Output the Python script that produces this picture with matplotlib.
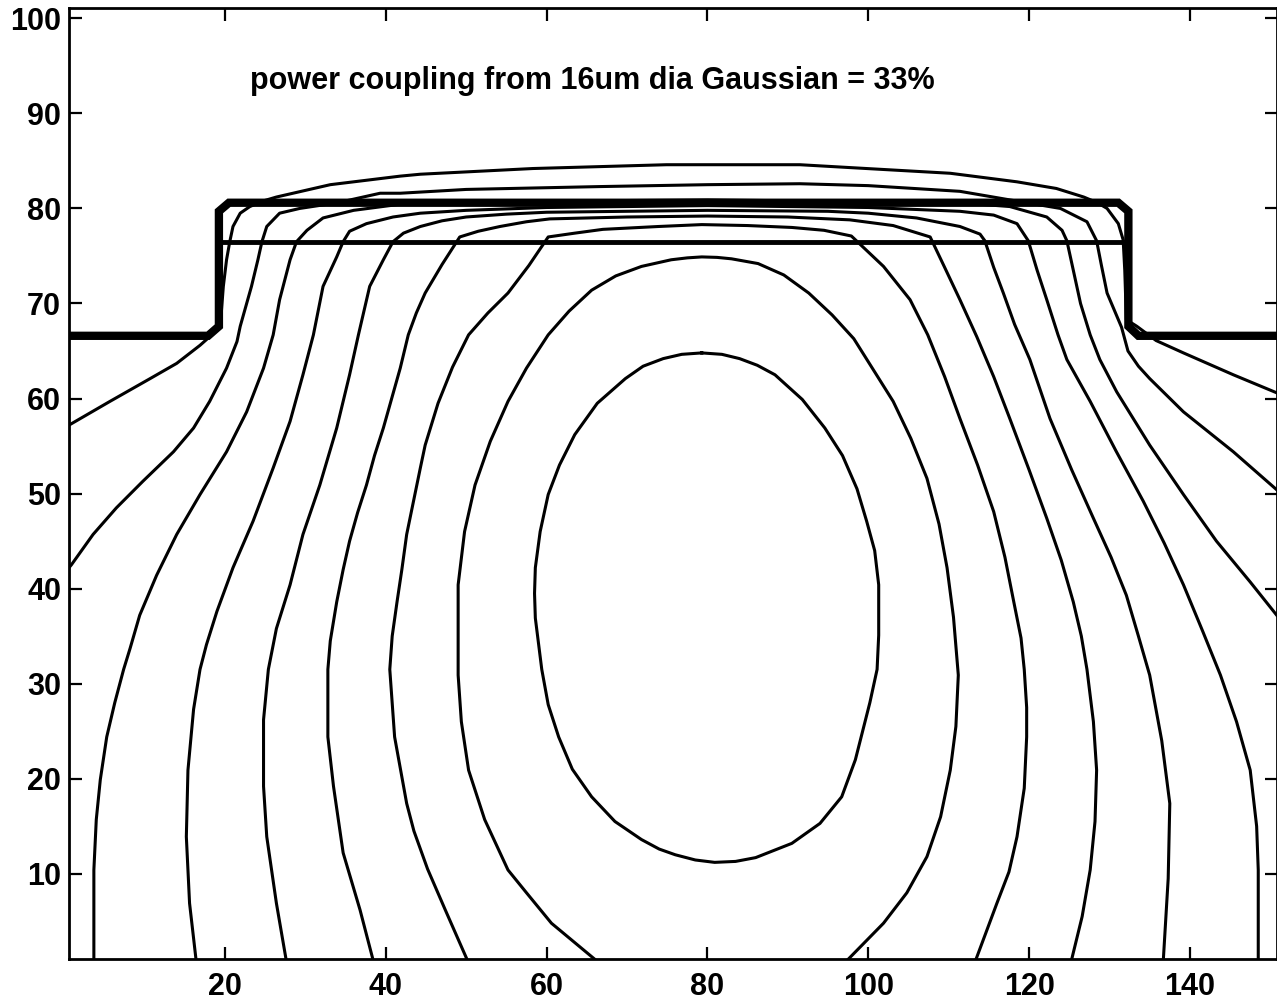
import matplotlib
matplotlib.use("Agg")
import matplotlib.pyplot as plt

plt.rcParams['font.family'] = ['Liberation Sans', 'DejaVu Sans']

# ---------------------------------------------------------
# contour lines (x, y in um)
# ---------------------------------------------------------
c1_x = [79.3, 76.8, 74.5, 72.0, 69.8, 66.3, 63.5, 61.6, 60.2, 59.2, 58.6, 58.5, 58.6, 59.4, 60.2, 61.5,
        63.2, 65.6, 68.5, 71.8, 74.0, 76.0, 78.5, 80.9, 83.5, 86.0, 90.5, 94.0, 96.7, 98.4, 100.2,
        101.1, 101.3, 101.3, 100.8, 99.8, 98.6, 96.8, 94.6, 91.8, 88.4, 86.2, 84.0, 81.8, 79.3]
c1_y = [64.8, 64.65, 64.2, 63.4, 62.1, 59.5, 56.2, 53.0, 49.9, 46.0, 42.2, 39.5, 36.9, 31.5, 27.8, 24.4,
        21.0, 18.1, 15.5, 13.6, 12.6, 12.0, 11.45, 11.2, 11.3, 11.7, 13.2, 15.3, 18.1, 22.0, 28.0,
        31.5, 35.1, 40.4, 44.0, 47.1, 50.5, 54.0, 56.9, 59.9, 62.5, 63.5, 64.2, 64.65, 64.8]

c2_x = [66.0, 60.6, 57.5, 55.2, 52.3, 50.3, 49.4, 49.0, 49.0, 49.0, 49.8, 51.1, 53.0, 55.2, 57.5, 60.2,
        62.8, 65.6, 68.6, 71.8, 75.5, 77.5, 79.3, 81.2, 83.0, 86.3, 89.5, 92.6, 95.5, 98.2, 100.8,
        103.1, 105.3, 107.3, 108.8, 109.8, 110.6, 111.2, 110.9, 110.2, 109.0, 107.3, 104.8, 101.9,
        97.5]
c2_y = [1.0, 4.8, 8.0, 10.4, 15.7, 20.9, 26.0, 30.9, 36.0, 40.4, 46.0, 50.9, 55.5, 59.7, 63.2, 66.7,
        69.2, 71.4, 72.9, 73.9, 74.6, 74.8, 74.9, 74.85, 74.7, 74.2, 73.0, 71.1, 68.8, 66.3, 62.8,
        59.7, 55.8, 51.6, 46.8, 42.2, 37.0, 30.9, 25.5, 20.9, 16.0, 11.8, 8.0, 4.8, 1.0]

c3_x = [50.1, 47.4, 45.2, 43.5, 42.6, 41.1, 40.5, 40.8, 41.4, 42.0, 42.6, 44.3, 44.9, 46.5, 48.3, 50.3,
        52.7, 55.2, 57.8, 60.2, 63.5, 67.0, 73.9, 79.3, 85.0, 90.5, 94.5, 97.9, 101.9, 105.2, 107.4,
        109.5, 111.4, 113.6, 115.6, 117.0, 118.1, 119.0, 119.4, 119.7, 119.7, 119.4, 118.5, 117.5,
        116.0, 113.4]
c3_y = [1.0, 6.2, 10.5, 14.5, 17.4, 24.4, 31.5, 35.0, 38.6, 42.0, 45.7, 52.7, 55.1, 59.5, 63.3, 66.7,
        69.0, 71.1, 74.0, 77.0, 77.4, 77.8, 78.1, 78.3, 78.2, 78.0, 77.7, 77.1, 73.9, 70.4, 66.7,
        62.3, 57.9, 53.0, 48.1, 43.3, 38.6, 34.8, 31.5, 27.5, 24.4, 19.0, 13.9, 10.2, 6.9, 1.0]

c4_x = [38.4, 36.8, 34.7, 33.5, 32.8, 32.8, 33.1, 33.9, 34.7, 35.5, 36.5, 37.6, 38.6, 39.7, 40.8, 41.8,
        42.8, 43.8, 44.9, 47.0, 49.2, 51.5, 54.2, 57.5, 60.4, 70.0, 80.0, 90.0, 97.7, 103.1, 107.7,
        109.5, 111.4, 113.5, 115.6, 117.6, 120.0, 122.2, 124.0, 125.5, 126.5, 127.2, 128.0, 128.4,
        128.2, 127.6, 126.6, 125.3]
c4_y = [1.0, 6.2, 12.2, 19.2, 24.4, 31.5, 34.5, 38.6, 42.0, 45.0, 48.0, 50.9, 54.0, 56.9, 60.2, 63.2,
        66.7, 69.0, 71.1, 74.1, 77.0, 77.6, 78.1, 78.6, 78.9, 79.1, 79.2, 79.1, 78.8, 78.2, 77.0,
        73.8, 70.4, 66.5, 62.3, 57.9, 52.5, 47.4, 43.0, 38.6, 35.0, 31.5, 26.0, 20.9, 15.5, 10.4,
        5.5, 1.0]

c5_x = [27.6, 26.4, 25.2, 24.8, 24.8, 25.4, 26.4, 28.1, 29.7, 31.8, 33.9, 35.5, 36.6, 38.0, 39.7, 40.9,
        42.2, 44.3, 47.0, 50.0, 55.0, 60.0, 80.0, 95.0, 100.0, 106.0, 111.4, 113.9, 114.5, 115.6,
        116.8, 118.2, 120.1, 122.6, 125.3, 128.0, 130.2, 132.1, 133.6, 135.0, 136.5, 137.5, 137.3,
        136.7]
c5_y = [1.0, 6.9, 13.9, 19.2, 26.2, 31.5, 35.8, 40.4, 45.7, 50.9, 56.9, 62.5, 66.7, 71.8, 74.6, 76.5,
        77.4, 78.1, 78.7, 79.1, 79.4, 79.6, 79.8, 79.7, 79.5, 79.0, 78.1, 77.3, 76.6, 73.8,
        71.1, 67.8, 64.1, 57.9, 52.5, 47.4, 43.3, 39.3, 35.0, 30.9, 24.0, 17.4, 9.5, 1.0]

c6_x = [16.4, 15.6, 15.2, 15.4, 16.1, 16.9, 17.7, 19.0, 21.0, 23.5, 26.0, 28.1, 29.7, 31.0, 32.2, 33.9,
        34.7, 35.5, 37.6, 40.9, 44.3, 50.0, 60.0, 80.0, 100.0, 111.4, 115.6, 118.5, 119.9, 121.0,
        122.2, 123.6, 124.7, 127.6, 130.8, 134.2, 136.8, 139.2, 141.6, 143.8, 145.8, 147.5, 148.3,
        148.5, 148.5]
c6_y = [1.0, 6.9, 13.9, 20.9, 27.3, 31.5, 34.1, 37.6, 42.2, 47.1, 52.7, 57.6, 62.5, 66.7, 71.8, 74.9,
        76.5, 77.6, 78.4, 79.1, 79.5, 79.8, 80.1, 80.3, 80.1, 79.7, 79.3, 78.4, 76.6, 73.5,
        70.4, 66.7, 64.1, 59.7, 54.5, 49.2, 44.8, 40.4, 35.5, 30.9, 26.0, 20.9, 15.0,
        10.4, 1.0]

c7_x = [3.7, 3.7, 4.0, 4.5, 5.3, 6.3, 7.4, 8.2, 9.4, 11.5, 14.0, 16.9, 20.2, 22.7, 24.8, 26.0, 26.8,
        28.1, 28.9, 30.2, 32.2, 36.0, 41.4, 50.0, 80.0, 111.4, 117.6, 122.2, 124.1, 124.7, 125.5,
        126.4, 127.6, 128.8, 130.9, 135.0, 139.2, 143.3, 147.5, 150.8]
c7_y = [1.0, 10.4, 15.7, 19.9, 24.4, 28.0, 31.5, 33.7, 37.2, 41.4, 45.7, 49.9, 54.4, 58.6, 63.2, 66.7,
        70.4, 74.6, 76.5, 77.7, 79.0, 79.8, 80.4, 80.7, 80.9, 80.6, 80.2, 79.1, 77.7, 76.6, 73.5,
        70.0, 66.7, 64.1, 60.7, 55.1, 49.9, 45.0, 40.7, 37.2]

c8_x = [0.6, 0.9, 3.6, 6.5, 9.8, 13.6, 16.1, 18.1, 20.2, 21.5, 21.9, 23.3, 24.1, 24.6, 25.2, 26.8, 29.3,
        34.0, 39.3, 41.8, 50.0, 66.6, 80.0, 91.5, 100.0, 111.4, 117.6, 123.9, 127.2, 128.4, 129.0,
        129.7, 131.5, 132.3, 133.6, 135.0, 139.2, 145.4, 150.8]
c8_y = [42.2, 42.5, 45.7, 48.5, 51.3, 54.4, 56.9, 59.7, 63.2, 66.0, 67.6, 71.8, 74.6, 76.5, 78.1, 79.5,
        80.0, 80.6, 81.6, 81.6, 82.0, 82.3, 82.5, 82.6, 82.4, 81.8, 80.9, 80.0, 78.6, 76.6, 74.0,
        71.1, 67.5, 65.0, 63.4, 62.1, 58.6, 54.4, 50.4]

c9_x = [0.6, 5.7, 10.7, 14.0, 16.9, 18.5, 19.5, 19.8, 20.2, 20.6, 21.0, 21.9, 23.1, 24.8, 26.4, 33.1,
        41.8, 44.3, 58.3, 74.9, 91.5, 97.7, 110.2, 118.5, 123.4, 126.8, 128.5, 129.7, 131.1, 131.7,
        131.9, 132.1, 133.4, 135.8, 139.2, 145.4, 150.8]
c9_y = [57.2, 59.7, 62.1, 63.7, 65.6, 66.8, 68.5, 71.8, 74.6, 76.5, 78.1, 79.5, 80.2, 80.8, 81.2, 82.5,
        83.4, 83.6, 84.2, 84.6, 84.6, 84.3, 83.7, 82.8, 82.1, 81.2, 80.6, 80.0, 78.4, 76.7,
        73.5, 68.3, 67.6, 66.1, 64.8, 62.5, 60.6]

contours_x = [c1_x, c2_x, c3_x, c4_x, c5_x, c6_x, c7_x, c8_x, c9_x]
contours_y = [c1_y, c2_y, c3_y, c4_y, c5_y, c6_y, c7_y, c8_y, c9_y]

# ---------------------------------------------------------
# rib waveguide outline and core boundary
# ---------------------------------------------------------
rib_x = [0.6, 17.9, 19.25, 19.25, 20.5, 131.1, 132.35, 132.35, 133.6, 150.8]
rib_y = [66.6, 66.6, 67.6, 79.7, 80.6, 80.6, 79.7, 67.6, 66.6, 66.6]

core_x = [19.25, 132.35]
core_y = [76.45, 76.45]

label = "power coupling from 16um dia Gaussian = 33%"

# ---------------------------------------------------------
# figure
# ---------------------------------------------------------
fig = plt.figure(figsize=(12.77, 10.08), dpi=100)
ax = fig.add_axes([0.0543, 0.0483, 0.9455, 0.9434])

for cx, cy in zip(contours_x, contours_y):
    ax.plot(cx, cy, color="black", lw=2.2, solid_joinstyle="round")

ax.plot(core_x, core_y, color="black", lw=3.5)
ax.plot(rib_x, rib_y, color="black", lw=6, solid_joinstyle="miter")

ax.text(23.1, 92.6, label, fontsize=22, fontweight="bold", va="baseline", ha="left")

ax.set_xlim(0.65, 150.8)
ax.set_ylim(1.0, 101.05)
ax.set_xticks([20, 40, 60, 80, 100, 120, 140])
ax.set_yticks([10, 20, 30, 40, 50, 60, 70, 80, 90, 100])

ax.tick_params(direction="in", length=9, width=1.6, top=True, right=True,
               labelsize=22)
ax.tick_params(axis="x", pad=9)
ax.tick_params(axis="y", pad=6)
for lab in ax.get_xticklabels() + ax.get_yticklabels():
    lab.set_fontweight("bold")
for sp in ax.spines.values():
    sp.set_linewidth(2)

plt.savefig("out.png", dpi=100)
